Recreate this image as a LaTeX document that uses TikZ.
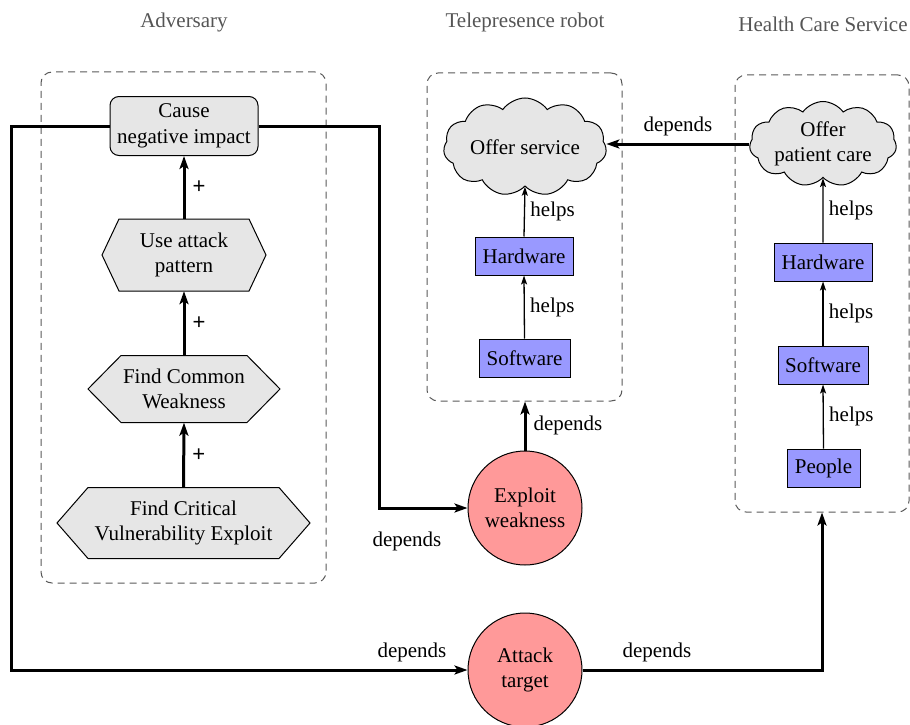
\documentclass[tikz,border=0pt]{standalone}
\usepackage{fontspec}
\setmainfont{Liberation Serif}
\newfontfamily\plusfont{Liberation Sans}
\usetikzlibrary{shapes.symbols,arrows.meta}

\definecolor{boxgray}{HTML}{E6E6E6}
\definecolor{hwblue}{HTML}{9999FF}
\definecolor{attackred}{HTML}{FF9999}
\definecolor{titlegray}{HTML}{555555}

\tikzset{
  base/.style={font=\fontsize{21}{25.5}\selectfont, align=center},
  groupbox/.style={draw=black!65, dash pattern=on 7pt off 5pt, line width=1pt, rounded corners=11pt},
  title/.style={base, text=titlegray},
  roundbox/.style={base, draw, line width=1pt, fill=boxgray, rounded corners=9pt, inner sep=0pt},
  hexshape/.style={draw, line width=1pt, fill=boxgray},
  hexlabel/.style={base, inner sep=0pt},
  cloudnode/.style={base, cloud, cloud puffs=11, cloud puff arc=110, cloud ignores aspect, draw, line width=1pt, fill=boxgray, inner sep=0pt},
  partbox/.style={base, draw, line width=1pt, fill=hwblue, minimum height=38pt, inner sep=0pt},
  goal/.style={base, circle, draw, line width=1pt, fill=attackred, minimum size=114pt, inner sep=0pt},
  strong/.style={line width=3pt, -{Stealth[length=13pt, width=9pt, inset=3pt]}},
  weak/.style={line width=1.3pt, -{Stealth[length=9pt, width=6pt, inset=2pt]}},
  lbl/.style={base},
  plus/.style={font=\fontsize{22}{24}\selectfont\plusfont, inner sep=1pt},
}

% hexagon: name, centre x, centre y, half width, half height, point depth, text
\newcommand{\hexagonbox}[7]{%
  \filldraw[hexshape] (#2-#4,#3) -- (#2-#4+#6,#3-#5) -- (#2+#4-#6,#3-#5)
    -- (#2+#4,#3) -- (#2+#4-#6,#3+#5) -- (#2-#4+#6,#3+#5) -- cycle;
  \node[hexlabel, minimum width=2*#4, minimum height=2*#5] (#1) at (#2,#3) {#7};
}

\begin{document}
\begin{tikzpicture}[x=1pt, y=-1pt]
\useasboundingbox (0,0) rectangle (910,725);

% group titles
\node[title] (tadv) at (184,22) {Adversary};
\node[title] (ttele) at (525,22) {Telepresence robot};
\node[title] (thealth) at (823,24) {Health Care Service};

% dashed group frames
\node[groupbox, minimum width=285pt, minimum height=511pt] (adv) at (183.5,327.5) {};
\node[groupbox, minimum width=195pt, minimum height=328pt] (tele) at (524.5,237) {};
\node[groupbox, minimum width=174pt, minimum height=437pt] (health) at (822,293.5) {};

% adversary chain
\node[roundbox, minimum width=148pt, minimum height=59pt] (cause) at (184,126) {Cause\\negative impact};
\hexagonbox{use}{184}{255}{82}{36}{17}{Use attack\\pattern}
\hexagonbox{common}{184}{389}{96}{33.5}{33}{Find Common\\Weakness}
\hexagonbox{critical}{183.5}{523}{126.5}{35.5}{31}{Find Critical\\Vulnerability Exploit}

\draw[strong] (critical.north) -- node[plus, right=6pt] (p1) {+} (common.south);
\draw[strong] (common.north) -- node[plus, right=6pt] (p2) {+} (use.south);
\draw[strong] (use.north) -- node[plus, right=6pt] (p3) {+} (cause.south);

% telepresence robot
\node[cloudnode, minimum width=163pt, minimum height=98pt] (service) at (525,147) {Offer service};
\node[partbox, minimum width=98pt] (thw) at (524,256) {Hardware};
\node[partbox, minimum width=91pt] (tsw) at (524.5,358) {Software};
\draw[weak] (thw.north) -- node[lbl, right=2pt] (h1) {helps} (service.south);
\draw[weak] (tsw.north) -- node[lbl, right=2pt] (h2) {helps} (thw.south);

% health care service
\node[cloudnode, minimum width=147pt, minimum height=85pt] (care) at (823,144) {Offer\\patient care};
\node[partbox, minimum width=98pt] (hhw) at (823,262) {Hardware};
\node[partbox, minimum width=90pt] (hsw) at (823,365) {Software};
\node[partbox, minimum width=73pt] (people) at (823.5,468) {People};
\draw[weak] (hhw.north) -- node[lbl, right=2pt] (h3) {helps} (care.south);
\draw[weak] (hsw.north) -- node[lbl, right=2pt] (h4) {helps} (hhw.south);
\draw[weak] (people.north) -- node[lbl, right=2pt] (h5) {helps} (hsw.south);

% attack goals
\node[goal] (exploit) at (525,508) {Exploit\\weakness};
\node[goal] (attack) at (525,670) {Attack\\target};

% dependencies
\coordinate (leftturn) at (11,126);
\coordinate (rightturn) at (379,126);
\draw[strong] (cause.west) -- (leftturn) |- (attack.west);
\draw[strong] (cause.east) -- (rightturn) |- (exploit.west);
\draw[strong] (exploit.north) -- (exploit.north |- tele.south);
\draw[strong] (attack.east) -| (health.south);
\draw[strong] (care.west) -- (care.west -| service.east);

\node[lbl] (d1) at (412,652) {depends};
\node[lbl] (d2) at (657,652) {depends};
\node[lbl] (d3) at (407,541) {depends};
\node[lbl] (d4) at (568,425) {depends};
\node[lbl] (d5) at (678,126) {depends};
\end{tikzpicture}
\end{document}
